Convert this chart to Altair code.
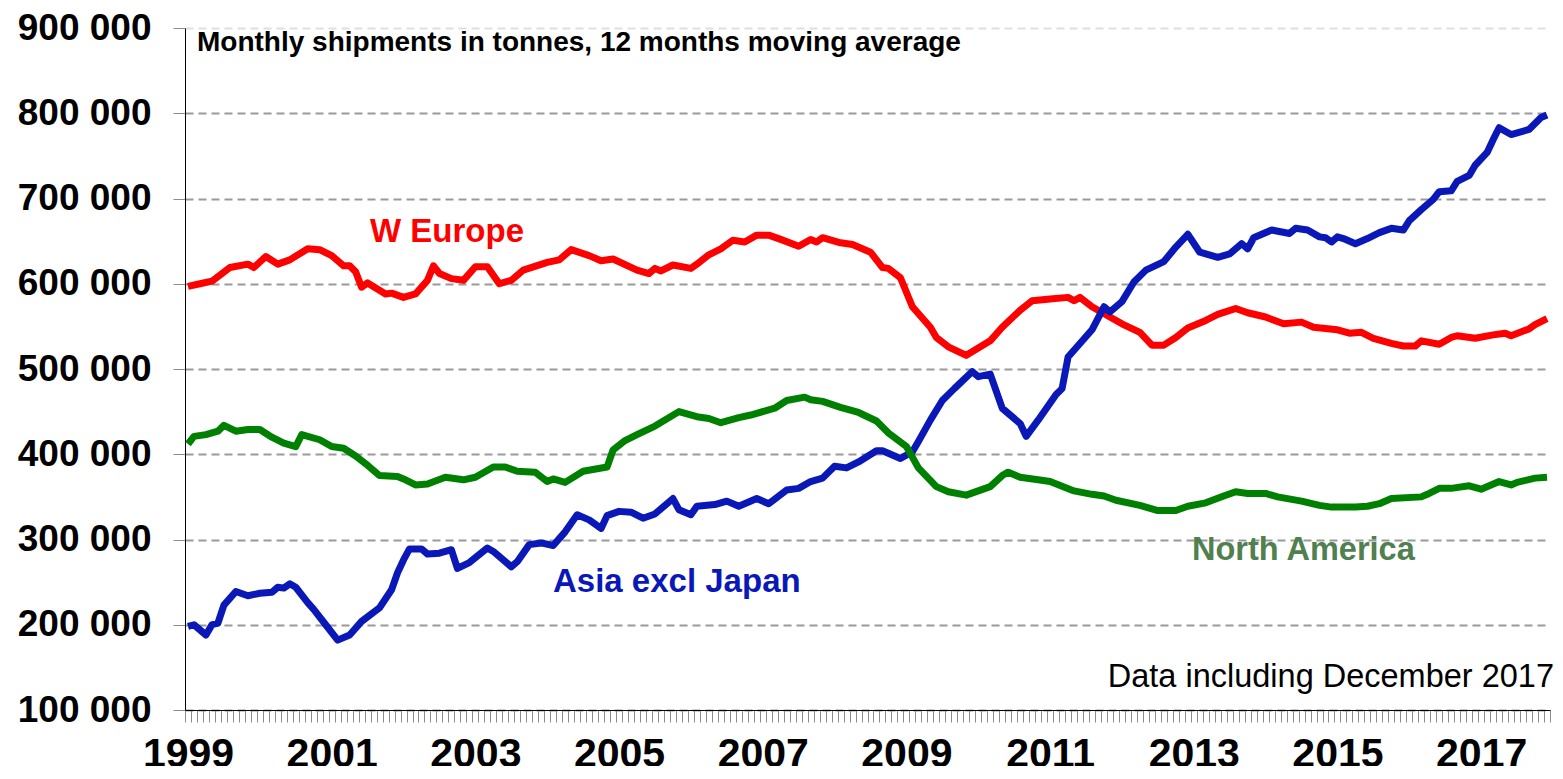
import altair as alt
import pandas as pd

# ---------------- data (month index 0 = Jan 1999, 227 = Dec 2017) ----------------
eu_months = [0, 2, 4, 7, 10, 11, 13, 15, 17, 20, 22, 24, 26, 27, 28, 29, 30, 33, 34, 36,
             38, 40, 41, 42, 44, 46, 48, 50, 52, 54, 56, 60, 62, 64, 67, 69, 71, 75, 77, 78,
             79, 81, 84, 85, 87, 89, 91, 93, 95, 97, 99, 102, 104, 105, 106, 109, 111, 114, 116, 117,
             119, 121, 124, 125, 127, 130, 134, 136, 139, 141, 144, 147, 148, 149, 151, 154, 156, 159, 161, 163,
             165, 167, 170, 172, 175, 177, 180, 183, 186, 188, 192, 194, 196, 198, 201, 203, 205, 206, 209, 211,
             212, 215, 218, 220, 221, 224, 225, 227]
eu_values = [597000, 600000, 603000, 619000, 623000, 619000, 632000, 623000, 628000, 641000,
             640000, 633000, 621000, 621000, 614000, 596000, 601000, 588000, 589000, 584000,
             588000, 604000, 621000, 612000, 606000, 604000, 620000, 620000, 600000, 604000,
             616000, 625000, 628000, 640000, 633000, 627000, 629000, 616000, 612000, 618000,
             615000, 622000, 618000, 623000, 634000, 641000, 651000, 649000, 657000, 657000,
             652000, 644000, 652000, 649000, 654000, 648000, 646000, 637000, 619000, 618000,
             607000, 573000, 549000, 537000, 526000, 516000, 533000, 549000, 569000, 580000,
             582000, 584000, 580000, 584000, 573000, 561000, 553000, 543000, 528000, 528000,
             537000, 548000, 557000, 564000, 571000, 566000, 561000, 553000, 555000, 549000,
             546000, 542000, 543000, 536000, 530000, 527000, 527000, 533000, 529000, 537000,
             539000, 536000, 540000, 542000, 539000, 547000, 552000, 559000]

na_months = [0, 1, 3, 5, 6, 8, 10, 12, 14, 16, 18, 19, 22, 24, 26, 28, 30, 32, 35, 36,
             38, 40, 43, 46, 48, 51, 53, 55, 58, 60, 61, 63, 66, 70, 71, 73, 75, 78, 82, 85,
             87, 89, 92, 94, 95, 98, 100, 103, 104, 106, 109, 112, 115, 117, 120, 122, 125, 127, 130, 134,
             136, 137, 139, 142, 144, 148, 151, 153, 155, 159, 162, 165, 167, 170, 173, 175, 177, 180, 182, 186,
             189, 191, 195, 197, 199, 201, 206, 207, 209, 211, 214, 216, 219, 221, 222, 225, 227]
na_values = [412000, 421000, 423000, 427000, 434000, 427000, 429000, 429000, 420000, 413000,
             409000, 423000, 417000, 409000, 407000, 398000, 387000, 375000, 374000, 371000,
             364000, 365000, 373000, 370000, 373000, 385000, 385000, 380000, 379000, 368000,
             371000, 367000, 380000, 385000, 405000, 416000, 423000, 433000, 450000, 444000,
             442000, 437000, 443000, 446000, 448000, 454000, 463000, 467000, 464000, 462000,
             455000, 449000, 439000, 425000, 409000, 384000, 362000, 356000, 352000, 362000,
             375000, 379000, 373000, 370000, 368000, 357000, 353000, 351000, 346000, 340000,
             334000, 334000, 339000, 343000, 351000, 356000, 354000, 354000, 350000, 345000,
             340000, 338000, 338000, 339000, 342000, 348000, 350000, 353000, 360000, 360000,
             363000, 359000, 368000, 364000, 367000, 372000, 373000]

asia_months = [0, 1, 3, 4, 5, 6, 8, 10, 12, 14, 15, 16, 17, 18, 20, 21, 23, 25, 27, 29,
               32, 34, 35, 36, 37, 39, 40, 42, 44, 45, 47, 50, 51, 54, 55, 57, 59, 61, 63, 65,
               67, 69, 70, 72, 74, 76, 78, 81, 82, 84, 85, 88, 90, 92, 95, 97, 100, 102, 104, 106,
               108, 110, 112, 115, 116, 119, 121, 122, 124, 126, 128, 131, 132, 134, 136, 139, 140, 142, 145, 146,
               147, 151, 153, 154, 156, 158, 160, 163, 165, 167, 169, 172, 174, 176, 177, 178, 181, 184, 185, 187,
               189, 190, 191, 192, 193, 195, 197, 199, 201, 203, 204, 206, 208, 209, 211, 212, 214, 215, 217, 218,
               219, 221, 224, 226, 227]
asia_values = [198000, 200000, 188000, 200000, 202000, 223000, 239000, 234000, 237000, 238000,
               244000, 243000, 248000, 244000, 226000, 218000, 200000, 182000, 188000, 204000,
               220000, 241000, 261000, 276000, 289000, 289000, 283000, 284000, 288000, 266000,
               273000, 290000, 286000, 268000, 274000, 294000, 296000, 293000, 309000, 329000,
               323000, 313000, 328000, 333000, 332000, 325000, 330000, 348000, 335000, 329000,
               339000, 341000, 345000, 339000, 348000, 342000, 358000, 360000, 368000, 372000,
               386000, 384000, 391000, 404000, 404000, 395000, 403000, 415000, 440000, 463000,
               477000, 497000, 491000, 494000, 454000, 436000, 421000, 440000, 470000, 477000,
               514000, 546000, 573000, 567000, 579000, 602000, 616000, 626000, 643000, 658000,
               637000, 631000, 635000, 647000, 641000, 654000, 663000, 659000, 665000, 663000,
               655000, 654000, 649000, 655000, 653000, 647000, 653000, 660000, 665000, 663000,
               674000, 687000, 699000, 708000, 709000, 720000, 727000, 739000, 754000, 769000,
               783000, 775000, 781000, 795000, 798000]

y_ticks = [100000, 200000, 300000, 400000, 500000, 600000, 700000, 800000, 900000]

df = pd.concat([
    pd.DataFrame({"series": "W Europe", "month": eu_months, "value": eu_values}),
    pd.DataFrame({"series": "North America", "month": na_months, "value": na_values}),
    pd.DataFrame({"series": "Asia excl Japan", "month": asia_months, "value": asia_values}),
], ignore_index=True)

W, H = 1365, 682
FONT = "Liberation Sans"

x_enc = alt.X(
    "pos:Q",
    scale=alt.Scale(domain=[0, 228], nice=False, zero=False),
    axis=alt.Axis(
        values=list(range(229)),
        labelExpr="datum.value % 24 == 0 ? toString(1999 + datum.value / 12) : ''",
        labelOverlap=False, labelBound=False, labelFlush=False,
        labelOffset=3,
        grid=False, title=None,
        domainColor="#000000", domainWidth=1,
        tickColor="#8c8c8c", tickSize=12, tickWidth=1,
        labelFont=FONT, labelFontSize=41, labelFontWeight="bold", labelColor="#000000",
        labelPadding=12,
    ),
)
y_enc = alt.Y(
    "value:Q",
    scale=alt.Scale(domain=[100000, 900000], nice=False, zero=False),
    axis=alt.Axis(
        values=y_ticks,
        labelExpr="replace(format(datum.value, ','), ',', ' ')",
        grid=True, gridDash=[8, 5], gridWidth=2,
        gridColor={"condition": {"test": "datum.value == 900000", "value": "#e0e0e0"}, "value": "#9a9a9a"},
        title=None,
        domainColor="#000000", domainWidth=1,
        tickColor="#8c8c8c", tickSize=12, tickWidth=1,
        labelFont=FONT, labelFontSize=37, labelFontWeight="bold", labelColor="#000000",
        labelPadding=22,
    ),
)

base = alt.Chart(df).transform_calculate(pos="datum.month + 0.5")


def line(name, color):
    return base.transform_filter(alt.datum.series == name).mark_line(
        color=color, strokeWidth=7, strokeJoin="round", strokeCap="butt"
    ).encode(x=x_enc, y=y_enc)


one = pd.DataFrame({"k": [0]})


def note(text, x, y, color, size, weight="bold", align="left"):
    return alt.Chart(one).mark_text(
        text=text, font=FONT, fontSize=size, fontWeight=weight, color=color,
        align=align, baseline="alphabetic",
    ).encode(x=alt.value(x), y=alt.value(y))


chart = alt.layer(
    line("W Europe", "#ff0000"),
    line("Asia excl Japan", "#0a18b8"),
    line("North America", "#008000"),
    note("Monthly shipments in tonnes, 12 months moving average", 12, 23, "#000000", 28),
    note("W Europe", 185, 214, "#ff0000", 33),
    note("Asia excl Japan", 368, 564, "#0a18b8", 33),
    note("North America", 1007, 532, "#507f50", 32.5),
    note("Data including December 2017", 1369, 659, "#000000", 32.5, weight="normal", align="right"),
).properties(
    width=W, height=H,
    autosize=alt.AutoSizeParams(type="none"),
    padding={"left": 177, "top": 20, "right": 5, "bottom": 56},
).configure_view(stroke=None)

chart.save("out.html", embed_options={"renderer": "svg", "actions": False})
